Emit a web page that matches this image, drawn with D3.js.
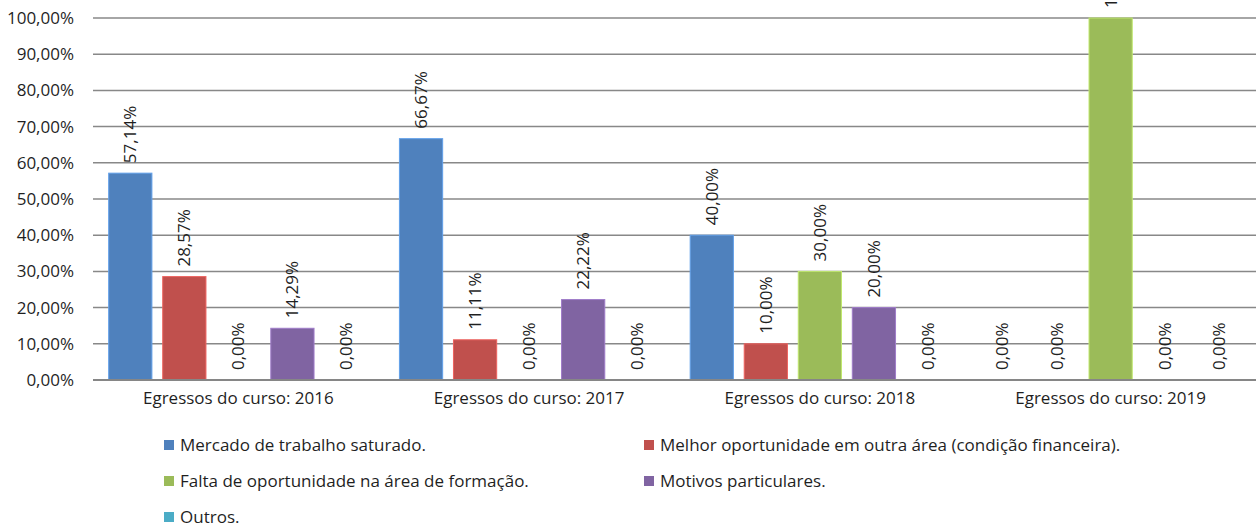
<!DOCTYPE html>
<html>
<head>
<meta charset="utf-8">
<script src="https://cdn.jsdelivr.net/npm/d3@7"></script>
<style>
  body { margin: 0; background: #fff; }
  svg { display: block; font-family: "Open Sans", sans-serif; }
</style>
</head>
<body>
<div id="vis"></div>
<script>
// data
var categories = ["Egressos do curso: 2016", "Egressos do curso: 2017", "Egressos do curso: 2018", "Egressos do curso: 2019"];
var seriesNames = [
  "Mercado de trabalho saturado.",
  "Melhor oportunidade em outra área (condição financeira).",
  "Falta de oportunidade na área de formação.",
  "Motivos particulares.",
  "Outros."
];
var mercado = [57.14, 66.67, 40.00, 0];
var melhor  = [28.57, 11.11, 10.00, 0];
var falta   = [0, 0, 30.00, 100.00];
var motivos = [14.29, 22.22, 20.00, 0];
var outros  = [0, 0, 0, 0];
var yTicks  = [0, 10, 20, 30, 40, 50, 60, 70, 80, 90, 100];
var colors  = ["#4f81bd", "#c0504d", "#9bbb59", "#8064a2", "#4bacc6"];

var seriesValues = [mercado, melhor, falta, motivos, outros];

var width = 1256, height = 527;
var margin = {top: 18, right: 0, bottom: 147, left: 93};
var plotBottom = height - margin.bottom;
var fontSize = "17px";

var svg = d3.select("#vis").append("svg")
    .attr("width", width)
    .attr("height", height);

function fmt(v) { return v.toFixed(2).replace(".", ",") + "%"; }

// scales
var x0 = d3.scaleBand()
    .domain(categories)
    .range([margin.left, width - margin.right]);

var x1 = d3.scaleBand()
    .domain(d3.range(seriesNames.length))
    .range([0, x0.bandwidth()])
    .paddingInner(0.2)
    .paddingOuter(0.29);

var y = d3.scaleLinear()
    .domain([0, 100])
    .range([plotBottom, margin.top]);

var color = d3.scaleOrdinal().domain(d3.range(seriesNames.length)).range(colors);

// gridlines
svg.append("g")
  .selectAll("line")
  .data(yTicks.slice(1))
  .enter().append("line")
    .attr("x1", margin.left)
    .attr("x2", width - margin.right)
    .attr("y1", function(d) { return y(d); })
    .attr("y2", function(d) { return y(d); })
    .attr("stroke", "#888888")
    .attr("stroke-width", 1.5);

// y axis labels
var yAxis = svg.append("g")
    .attr("transform", "translate(" + margin.left + ",0)")
    .call(d3.axisLeft(y).tickValues(yTicks).tickSize(0).tickPadding(19).tickFormat(fmt));
yAxis.select(".domain").remove();
yAxis.selectAll("text")
    .attr("fill", "#1f1f1f")
    .style("font-size", fontSize)
    .style("font-family", "'Open Sans', sans-serif");

// bars
var rows = [];
categories.forEach(function(c, ci) {
  seriesValues.forEach(function(vals, si) {
    rows.push({cat: c, s: si, value: vals[ci]});
  });
});

var bars = svg.append("g")
  .selectAll("g")
  .data(rows)
  .enter().append("g")
    .attr("transform", function(d) { return "translate(" + (x0(d.cat) + x1(d.s)) + ",0)"; });

bars.append("rect")
    .attr("y", function(d) { return y(d.value); })
    .attr("width", x1.bandwidth())
    .attr("height", function(d) { return y(0) - y(d.value); })
    .attr("fill", function(d) { return color(d.s); })
    .attr("stroke", function(d) { return d3.color(color(d.s)).brighter(0.6); })
    .attr("stroke-width", 1);

// value labels, rotated
bars.append("text")
    .attr("transform", function(d) {
      return "translate(" + (x1.bandwidth() / 2) + "," + (y(d.value) - 10) + ") rotate(-90)";
    })
    .attr("dy", "0.35em")
    .attr("fill", "#1f1f1f")
    .style("font-size", fontSize)
    .text(function(d) { return fmt(d.value); });

// x axis line
svg.append("line")
    .attr("x1", margin.left)
    .attr("x2", width - margin.right)
    .attr("y1", plotBottom)
    .attr("y2", plotBottom)
    .attr("stroke", "#868686")
    .attr("stroke-width", 2);

// category labels
var xAxis = svg.append("g")
    .attr("transform", "translate(0," + plotBottom + ")")
    .call(d3.axisBottom(x0).tickSize(0).tickPadding(12));
xAxis.select(".domain").remove();
xAxis.selectAll("text")
    .attr("fill", "#1f1f1f")
    .style("font-size", fontSize)
    .style("font-family", "'Open Sans', sans-serif");

// legend
var legend = svg.append("g")
  .selectAll("g")
  .data(seriesNames)
  .enter().append("g")
    .attr("transform", function(d, i) {
      return "translate(" + (i % 2 === 0 ? 164 : 644) + "," + (445 + Math.floor(i / 2) * 36) + ")";
    });

legend.append("rect")
    .attr("x", 0)
    .attr("y", -5)
    .attr("width", 10)
    .attr("height", 10)
    .attr("fill", function(d, i) { return color(i); });

legend.append("text")
    .attr("x", 16)
    .attr("dy", "0.35em")
    .attr("fill", "#1f1f1f")
    .style("font-size", fontSize)
    .text(function(d) { return d; });
</script>
</body>
</html>
